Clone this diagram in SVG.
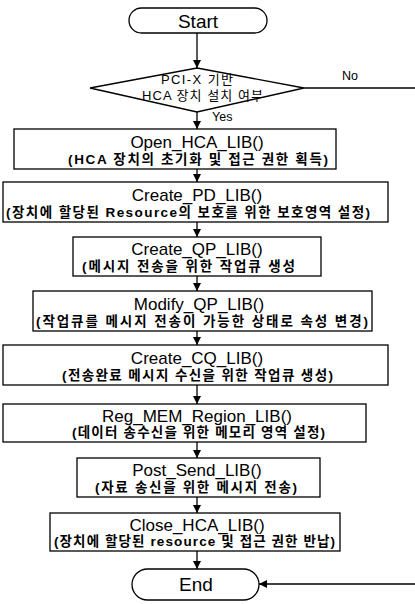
<svg xmlns="http://www.w3.org/2000/svg" width="415" height="604" viewBox="0 0 415 604">
  <style>
    .shape { fill: #fff; stroke: #000; stroke-width: 1.3; }
    .edge { fill: none; stroke: #000; stroke-width: 1.3; }
    .title { font-family: "Liberation Sans", Arial, sans-serif; font-size: 17px; fill: #000; text-anchor: middle; }
    .term { font-family: "Liberation Sans", Arial, sans-serif; font-size: 19px; fill: #000; text-anchor: middle; }
    .sub { font-family: "Liberation Sans", "Noto Sans CJK KR", sans-serif; font-size: 13.5px; font-weight: bold; fill: #000; }
    .cond { font-family: "Liberation Sans", "Noto Sans CJK KR", sans-serif; font-size: 13px; fill: #000; }
    .lbl { font-family: "Liberation Sans", "Noto Sans CJK KR", sans-serif; font-size: 12.5px; fill: #000; }
  </style>
  <defs>
    <marker id="arrow" viewBox="0 0 10 10" refX="10" refY="5" markerWidth="8" markerHeight="8" markerUnits="userSpaceOnUse" orient="auto">
      <path d="M0,0 L10,5 L0,10 z" fill="#000"/>
    </marker>
  </defs>

  <rect width="415" height="604" fill="#fff"/>

  <!-- connectors -->
  <g id="connectors">
    <line class="edge" x1="197" y1="33" x2="197" y2="68" marker-end="url(#arrow)"/>
    <line class="edge" x1="197" y1="112" x2="197" y2="129" marker-end="url(#arrow)"/>
    <line class="edge" x1="197" y1="169" x2="197" y2="182" marker-end="url(#arrow)"/>
    <line class="edge" x1="197" y1="222" x2="197" y2="237" marker-end="url(#arrow)"/>
    <line class="edge" x1="197" y1="276" x2="197" y2="291" marker-end="url(#arrow)"/>
    <line class="edge" x1="197" y1="331" x2="197" y2="345" marker-end="url(#arrow)"/>
    <line class="edge" x1="197" y1="385" x2="197" y2="404" marker-end="url(#arrow)"/>
    <line class="edge" x1="197" y1="442" x2="197" y2="458" marker-end="url(#arrow)"/>
    <line class="edge" x1="197" y1="497" x2="197" y2="513" marker-end="url(#arrow)"/>
    <line class="edge" x1="197" y1="551" x2="197" y2="569" marker-end="url(#arrow)"/>
    <!-- "No" branch leaves to the right and returns into End -->
    <line class="edge" x1="304" y1="88" x2="415" y2="88"/>
    <line class="edge" x1="415" y1="584" x2="259" y2="584" marker-end="url(#arrow)"/>
    <text class="lbl" x="342" y="80">No</text>
    <text class="lbl" x="212" y="121">Yes</text>
  </g>

  <g id="start">
    <rect class="shape" x="129" y="8" width="138" height="25" rx="12.5"/>
    <text class="term" x="198" y="28">Start</text>
  </g>

  <g id="decision">
    <polygon class="shape" points="197,68 304,88 197,112 90,88"/>
    <text class="cond" x="161" y="84" textLength="72" lengthAdjust="spacing">PCI-X 기반</text>
    <text class="cond" x="142" y="100" textLength="121" lengthAdjust="spacing">HCA 장치 설치 여부</text>
  </g>

  <g id="open-hca">
    <rect class="shape" x="14" y="129" width="322" height="40"/>
    <text class="title" x="197" y="148">Open_HCA_LIB()</text>
    <text class="sub" x="68" y="164" textLength="260" lengthAdjust="spacing">(HCA 장치의 초기화 및 접근 권한 획득)</text>
  </g>

  <g id="create-pd">
    <rect class="shape" x="3" y="182" width="385" height="40"/>
    <text class="title" x="197" y="201">Create_PD_LIB()</text>
    <text class="sub" x="6" y="217" textLength="364" lengthAdjust="spacing">(장치에 할당된 Resource의 보호를 위한 보호영역 설정)</text>
  </g>

  <g id="create-qp">
    <rect class="shape" x="73" y="237" width="248" height="39"/>
    <text class="title" x="197" y="255">Create_QP_LIB()</text>
    <text class="sub" x="82" y="271" textLength="213" lengthAdjust="spacing">(메시지 전송을 위한 작업큐 생성</text>
  </g>

  <g id="modify-qp">
    <rect class="shape" x="33" y="291" width="339" height="40"/>
    <text class="title" x="199" y="310">Modify_QP_LIB()</text>
    <text class="sub" x="36" y="326" textLength="332" lengthAdjust="spacing">(작업큐를 메시지 전송이 가능한 상태로 속성 변경)</text>
  </g>

  <g id="create-cq">
    <rect class="shape" x="3" y="345" width="385" height="40"/>
    <text class="title" x="197" y="364">Create_CQ_LIB()</text>
    <text class="sub" x="62" y="380" textLength="271" lengthAdjust="spacing">(전송완료 메시지 수신을 위한 작업큐 생성)</text>
  </g>

  <g id="reg-mem">
    <rect class="shape" x="3" y="404" width="363" height="38"/>
    <text class="title" x="197" y="422">Reg_MEM_Region_LIB()</text>
    <text class="sub" x="72" y="437" textLength="253" lengthAdjust="spacing">(데이터 송수신을 위한 메모리 영역 설정)</text>
  </g>

  <g id="post-send">
    <rect class="shape" x="77" y="458" width="243" height="39"/>
    <text class="title" x="197" y="476">Post_Send_LIB()</text>
    <text class="sub" x="95" y="492" textLength="202" lengthAdjust="spacing">(자료 송신을 위한 메시지 전송)</text>
  </g>

  <g id="close-hca">
    <rect class="shape" x="50" y="513" width="290" height="38"/>
    <text class="title" x="197" y="531">Close_HCA_LIB()</text>
    <text class="sub" x="54" y="546" textLength="281" lengthAdjust="spacing">(장치에 할당된 resource 및 접근 권한 반납)</text>
  </g>

  <g id="end">
    <rect class="shape" x="132" y="569" width="127" height="31" rx="15.5"/>
    <text class="term" x="196" y="591">End</text>
  </g>
</svg>
